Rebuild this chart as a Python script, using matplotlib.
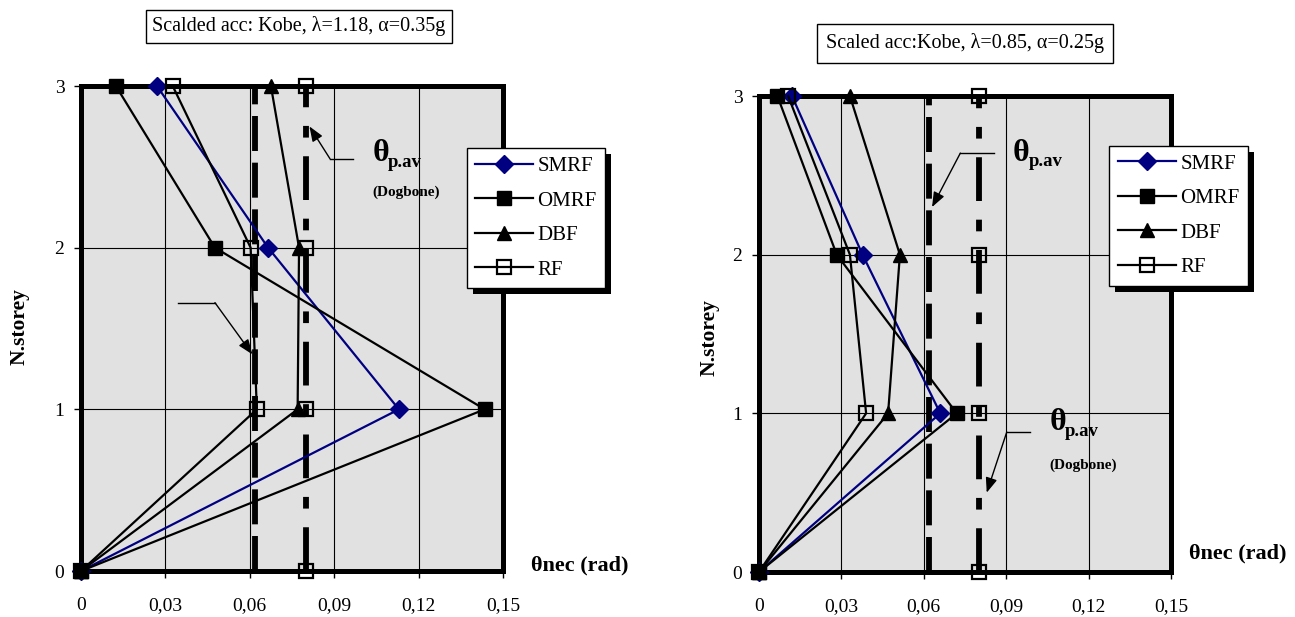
import matplotlib
matplotlib.use("Agg")
import matplotlib.pyplot as plt
from matplotlib.patches import Rectangle
from matplotlib.transforms import IdentityTransform

plt.rcParams['font.family'] = ['Liberation Serif', 'DejaVu Serif']

storeys = [0, 1, 2, 3]
series_names = ['SMRF', 'OMRF', 'DBF', 'RF']
xticks = [0, 0.03, 0.06, 0.09, 0.12, 0.15]
xtick_labels = ['0', '0,03', '0,06', '0,09', '0,12', '0,15']

# Kobe, lambda=1.18
smrf_a = [0, 0.113, 0.0665, 0.027]
omrf_a = [0, 0.1435, 0.0476, 0.0124]
dbf_a = [0, 0.077, 0.0775, 0.0675]
rf_a = [0, 0.0625, 0.0603, 0.0326]

# Kobe, lambda=0.85
smrf_b = [0, 0.066, 0.0377, 0.012]
omrf_b = [0, 0.072, 0.0283, 0.0067]
dbf_b = [0, 0.047, 0.0513, 0.0331]
rf_b = [0, 0.039, 0.0331, 0.0106]

theta_pav = 0.062          # average plastic rotation, reduced section
theta_pav_dogbone = 0.08   # average plastic rotation, dogbone

styles = [
    dict(color='#000080', marker='D', ms=9, mfc='#000080', mec='#000080'),
    dict(color='black', marker='s', ms=10, mfc='black', mec='black'),
    dict(color='black', marker='^', ms=10, mfc='black', mec='black'),
    dict(color='black', marker='s', ms=9.5, mfc='none', mec='black', mew=1.6),
]

fig = plt.figure(figsize=(12.95, 6.17), dpi=100)
ax1 = fig.add_axes([0.06255, 0.07455, 0.32587, 0.78606])
ax2 = fig.add_axes([0.58610, 0.07293, 0.31815, 0.77147])


def leader(ax, hx0, hx1, hy, tip):
    ax.plot([hx0, hx1], [hy, hy], color='black', lw=1.0, zorder=6, clip_on=False)
    ax.annotate('', xy=tip, xytext=(hx0, hy),
                arrowprops=dict(arrowstyle='-|>,head_length=0.9,head_width=0.35',
                                color='black', lw=1.0, shrinkA=0, shrinkB=0),
                zorder=6, annotation_clip=False)


def theta_label(ax, x, y):
    ax.text(x, y, 'θ', fontsize=23, fontweight='bold', va='center', ha='left', zorder=6)
    ax.annotate('p.av', xy=(x, y), xytext=(11, -6), textcoords='offset points',
                fontsize=13.5, fontweight='bold', va='center', ha='left', zorder=6)


def panel(ax, data):
    ax.set_facecolor('#e1e1e1')
    ax.set_xlim(0, 0.15)
    ax.set_ylim(0, 3)
    ax.set_xticks(xticks)
    ax.set_xticklabels(xtick_labels)
    ax.set_yticks(storeys)
    ax.tick_params(direction='out', length=5, width=1, labelsize=14, colors='black')
    ax.tick_params(axis='x', pad=14)
    ax.tick_params(axis='y', pad=7)
    ax.grid(True, color='black', lw=0.8)
    ax.set_axisbelow(True)
    for s in ax.spines.values():
        s.set_linewidth(3.6)

    ax.plot([theta_pav] * len(storeys), storeys, color='black', lw=4.2,
            dashes=(6.0, 2.0), zorder=3, clip_on=False)
    ax.plot([theta_pav_dogbone] * len(storeys), storeys, color='black', lw=4.2,
            dashes=(7.5, 3.2, 2.0, 3.2), zorder=3, clip_on=False)
    ax.plot([theta_pav_dogbone] * len(storeys), storeys, ls='none', zorder=4,
            clip_on=False, **styles[3])

    handles = []
    for name, vals, st in zip(series_names, data, styles):
        h, = ax.plot(vals, storeys, lw=1.6, label=name, zorder=4, clip_on=False, **st)
        handles.append(h)
    return handles


h1 = panel(ax1, [smrf_a, omrf_a, dbf_a, rf_a])
h2 = panel(ax2, [smrf_b, omrf_b, dbf_b, rf_b])

# leader lines and labels
leader(ax1, 0.0885, 0.0967, 2.55, (0.0812, 2.75))
leader(ax1, 0.0476, 0.0345, 1.66, (0.0609, 1.34))
theta_label(ax1, 0.1036, 2.58)
ax1.text(0.1036, 2.34, '(Dogbone)', fontsize=11, fontweight='bold', va='center', ha='left', zorder=6)

leader(ax2, 0.0733, 0.0857, 2.64, (0.0630, 2.30))
leader(ax2, 0.0902, 0.0987, 0.882, (0.0829, 0.50))
theta_label(ax2, 0.0925, 2.64)
theta_label(ax2, 0.1059, 0.94)
ax2.text(0.1059, 0.67, '(Dogbone)', fontsize=11, fontweight='bold', va='center', ha='left', zorder=6)

legends = []
for ax, hs, anchor in [(ax1, h1, (0.3604, 0.7601)), (ax2, h2, (0.8566, 0.7639))]:
    leg = ax.legend(hs, series_names, loc='upper left', bbox_to_anchor=anchor,
                    bbox_transform=fig.transFigure, fontsize=15, frameon=True,
                    fancybox=False, framealpha=1, edgecolor='black',
                    handlelength=2.8, handletextpad=0.2, labelspacing=0.72,
                    borderpad=0.4, borderaxespad=0)
    leg.get_frame().set_linewidth(1.0)
    leg.set_zorder(10)
    legends.append((ax, leg))

# titles
fig.text(0.2309, 0.9571, 'Scalded acc: Kobe, λ=1.18, α=0.35g', fontsize=14.5,
         ha='center', va='center',
         bbox=dict(boxstyle='square,pad=0.3', fc='white', ec='black', lw=1))
fig.text(0.7452, 0.9295, 'Scaled acc:Kobe, λ=0.85, α=0.25g', fontsize=14.5,
         ha='center', va='center',
         bbox=dict(boxstyle='square,pad=0.45', fc='white', ec='black', lw=1))

# axis titles
fig.text(20 / 1295, 1 - 327 / 617, 'N.storey', rotation=90, fontsize=15.5,
         fontweight='bold', ha='center', va='center')
fig.text(710 / 1295, 1 - 338 / 617, 'N.storey', rotation=90, fontsize=15.5,
         fontweight='bold', ha='center', va='center')
fig.text(531 / 1295, 1 - 565 / 617, 'θnec (rad)', fontsize=16,
         fontweight='bold', ha='left', va='center')
fig.text(1189 / 1295, 1 - 553 / 617, 'θnec (rad)', fontsize=16,
         fontweight='bold', ha='left', va='center')

# solid drop shadow behind each legend box
fig.canvas.draw()
for ax, leg in legends:
    bb = leg.get_frame().get_window_extent()
    shadow = Rectangle((bb.x0 + 6, bb.y0 - 6), bb.width, bb.height,
                       transform=IdentityTransform(), fc='black', ec='none',
                       zorder=9, clip_on=False)
    ax.add_artist(shadow)

fig.savefig('out.png', dpi=100)
